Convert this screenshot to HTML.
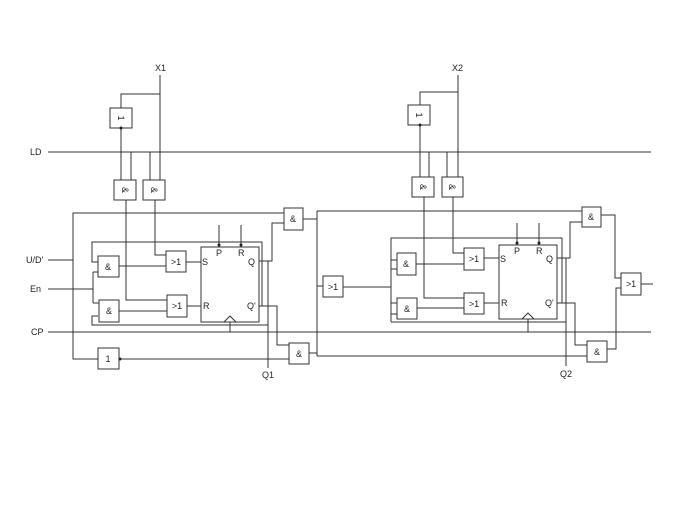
<!DOCTYPE html>
<html><head><meta charset="utf-8"><style>
html,body{margin:0;padding:0;background:#fff;width:683px;height:512px;overflow:hidden}
svg{display:block}
text{font-family:"Liberation Sans",sans-serif;font-size:9px;fill:#222}
</style></head><body>
<svg width="683" height="512" viewBox="0 0 683 512" xmlns="http://www.w3.org/2000/svg">
<g stroke="#333" stroke-width="1" fill="none">
<!-- global lines -->
<line x1="48" y1="152" x2="651" y2="152"/>
<line x1="48" y1="332" x2="651" y2="332"/>
<line x1="48" y1="260" x2="73" y2="260"/>
<line x1="48" y1="289" x2="93" y2="289"/>
<!-- stage 1 top -->
<polyline points="160,75 160,180"/>
<polyline points="121,108 121,94 160,94"/>
<rect x="110" y="108" width="22" height="20" fill="#fff"/>
<line x1="121" y1="128" x2="121" y2="180"/>
<line x1="131" y1="152" x2="131" y2="180"/>
<line x1="150" y1="152" x2="150" y2="180"/>
<rect x="114" y="180" width="22" height="20" fill="#fff"/>
<rect x="143" y="180" width="22" height="20" fill="#fff"/>
<polyline points="126,200 126,300 167,300"/>
<polyline points="155,200 155,255 166,255"/>
<rect x="166" y="251" width="20" height="21" fill="#fff"/>
<rect x="167" y="295" width="20" height="22" fill="#fff"/>
<line x1="186" y1="262" x2="201" y2="262"/>
<line x1="187" y1="306" x2="201" y2="306"/>
<rect x="201" y="247" width="58" height="75" fill="#fff"/>
<line x1="219" y1="225" x2="219" y2="247"/>
<line x1="241" y1="225" x2="241" y2="247"/>
<polyline points="224,322 230,316 236,322"/>
<line x1="230" y1="322" x2="230" y2="332"/>
<!-- feedback loop 1 -->
<polyline points="98,262 92,262 92,242 262,242 262,306 259,306"/>
<polyline points="98,316 92,316 92,325 268,325"/>
<line x1="93" y1="272" x2="93" y2="303"/>
<line x1="93" y1="272" x2="98" y2="272"/>
<line x1="93" y1="303" x2="99" y2="303"/>
<rect x="98" y="256" width="21" height="21" fill="#fff"/>
<rect x="99" y="300" width="20" height="22" fill="#fff"/>
<line x1="119" y1="266" x2="166" y2="266"/>
<line x1="119" y1="311" x2="167" y2="311"/>
<polyline points="259,261 272,261 272,223 284,223"/>
<line x1="268" y1="261" x2="268" y2="368"/>
<polyline points="259,306 277,306 277,345 289,345"/>
<!-- U/D' -->
<polyline points="284,213 73,213 73,359 98,359"/>
<rect x="284" y="208" width="19" height="22" fill="#fff"/>
<rect x="98" y="348" width="21" height="21" fill="#fff"/>
<line x1="119" y1="359" x2="289" y2="359"/>
<rect x="289" y="343" width="20" height="21" fill="#fff"/>
<polyline points="303,219 317,219"/>
<polyline points="309,353 317,353"/>
<line x1="317" y1="211" x2="317" y2="356"/>
<line x1="317" y1="211" x2="582" y2="211"/>
<line x1="317" y1="356" x2="587" y2="356"/>
<line x1="317" y1="286" x2="323" y2="286"/>
<rect x="323" y="276" width="20" height="21" fill="#fff"/>
<line x1="343" y1="287" x2="391" y2="287"/>
<!-- stage 2 top -->
<line x1="458" y1="75" x2="458" y2="177"/>
<polyline points="420,105 420,92 458,92"/>
<rect x="408" y="105" width="22" height="20" fill="#fff"/>
<line x1="420" y1="125" x2="420" y2="177"/>
<line x1="429" y1="152" x2="429" y2="177"/>
<line x1="447" y1="152" x2="447" y2="177"/>
<rect x="412" y="177" width="22" height="20" fill="#fff"/>
<rect x="442" y="177" width="21" height="20" fill="#fff"/>
<polyline points="424,197 424,298 464,298"/>
<polyline points="453,197 453,253 464,253"/>
<rect x="464" y="248" width="20" height="22" fill="#fff"/>
<rect x="464" y="293" width="20" height="21" fill="#fff"/>
<line x1="484" y1="258" x2="499" y2="258"/>
<line x1="484" y1="303" x2="499" y2="303"/>
<rect x="499" y="245" width="58" height="74" fill="#fff"/>
<line x1="517" y1="223" x2="517" y2="245"/>
<line x1="539" y1="223" x2="539" y2="245"/>
<polyline points="522,319 528,313 534,319"/>
<line x1="528" y1="319" x2="528" y2="332"/>
<polyline points="397,260 391,260 391,238 562,238 562,303 557,303"/>
<line x1="391" y1="238" x2="391" y2="322"/>
<line x1="391" y1="314" x2="397" y2="314"/>
<line x1="391" y1="322" x2="566" y2="322"/>
<line x1="391" y1="269" x2="397" y2="269"/>
<line x1="391" y1="303" x2="397" y2="303"/>
<rect x="397" y="253" width="19" height="22" fill="#fff"/>
<rect x="397" y="298" width="20" height="21" fill="#fff"/>
<line x1="416" y1="264" x2="464" y2="264"/>
<line x1="417" y1="308" x2="464" y2="308"/>
<polyline points="557,258 570,258 570,222 582,222"/>
<line x1="566" y1="258" x2="566" y2="366"/>
<polyline points="557,303 575,303 575,345 587,345"/>
<rect x="582" y="207" width="19" height="20" fill="#fff"/>
<rect x="587" y="341" width="20" height="21" fill="#fff"/>
<polyline points="601,215 615,215 615,278 621,278"/>
<polyline points="607,349 616,349 616,288 621,288"/>
<rect x="621" y="273" width="20" height="22" fill="#fff"/>
<line x1="641" y1="284" x2="653" y2="284"/>
</g>
<g fill="#222">
<circle cx="121" cy="128" r="1.5"/><circle cx="420" cy="125" r="1.5"/>
<circle cx="219" cy="245" r="1.5"/><circle cx="241" cy="245" r="1.5"/>
<circle cx="517" cy="243" r="1.5"/><circle cx="539" cy="243" r="1.5"/>
<circle cx="120" cy="359" r="1.5"/>
</g>
<text x="155" y="71">X1</text><text x="452" y="71">X2</text>
<text x="30" y="155">LD</text><text x="26" y="263">U/D'</text>
<text x="30" y="292">En</text><text x="31" y="335">CP</text>
<text x="262" y="378">Q1</text><text x="560" y="377">Q2</text>
<g font-size="8">
<text transform="translate(118,118) rotate(90)" text-anchor="middle">1</text>
<text transform="translate(416,115) rotate(90)" text-anchor="middle">1</text>
<text transform="translate(122,190) rotate(90)" text-anchor="middle">&amp;</text>
<text transform="translate(151,190) rotate(90)" text-anchor="middle">&amp;</text>
<text transform="translate(420,187) rotate(90)" text-anchor="middle">&amp;</text>
<text transform="translate(449,187) rotate(90)" text-anchor="middle">&amp;</text>
</g>
<g text-anchor="middle">
<text x="176" y="265">&gt;1</text><text x="177" y="309">&gt;1</text>
<text x="474" y="262">&gt;1</text><text x="474" y="307">&gt;1</text>
<text x="333" y="290">&gt;1</text><text x="631" y="287">&gt;1</text>
<text x="108" y="270">&amp;</text><text x="109" y="314">&amp;</text>
<text x="406" y="267">&amp;</text><text x="407" y="312">&amp;</text>
<text x="293" y="222">&amp;</text><text x="299" y="357">&amp;</text>
<text x="591" y="220">&amp;</text><text x="597" y="355">&amp;</text>
<text x="108" y="362">1</text>
</g>
<text x="202" y="265">S</text><text x="203" y="309">R</text>
<text x="216" y="256">P</text><text x="238" y="256">R</text>
<text x="248" y="265">Q</text><text x="247" y="309">Q'</text>
<text x="500" y="262">S</text><text x="501" y="306">R</text>
<text x="514" y="254">P</text><text x="536" y="254">R</text>
<text x="546" y="262">Q</text><text x="545" y="306">Q'</text>
</svg>
</body></html>
